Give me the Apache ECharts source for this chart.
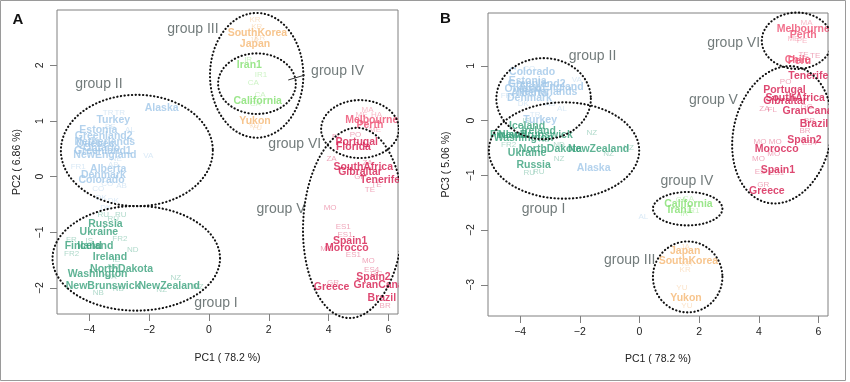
<!DOCTYPE html>
<html><head><meta charset="utf-8">
<script src="https://cdn.jsdelivr.net/npm/echarts@6/dist/echarts.min.js"></script>
<style>html,body{margin:0;padding:0;background:#fff}#c{width:850px;height:382px}</style>
</head><body><div id="c"></div>
<script>
// ---------- data ----------
const groupNames = ['group I','group II','group III','group IV','group V','group VI'];
const groupColors = ['#37a07a','#a0c7e8','#f5b672','#82e06e','#d61a4e','#ee4d70'];
const xTicks = [-4,-2,0,2,4,6];
const yTicksA = [-2,-1,0,1,2];
const yTicksB = [-3,-2,-1,0,1];
const axisTitleX = 'PC1 ( 78.2 %)';
const axisTitleYA = 'PC2 ( 6.86 %)';
const axisTitleYB = 'PC3 ( 5.06 %)';

// [label, PC1, PC2, group(1-6), bold population label=1 / sample code=0]
const pointsA = [
 ['RU',-2.95,-0.69,1,0],['RU',-3.53,-0.69,1,0],['RU',-3.2,-0.76,1,0],['FR2',-2.98,-1.12,1,0],
 ['ND',-2.55,-1.32,1,0],['FR2',-4.59,-1.39,1,0],['FR',-4.6,-1.14,1,0],['IS',-4.0,-1.15,1,0],
 ['IE',-3.1,-1.5,1,0],['ND',-3.2,-1.62,1,0],['WA',-3.3,-1.8,1,0],['NZ',-1.11,-1.81,1,0],
 ['NZ',-1.58,-2.03,1,0],['NZ',-0.36,-1.98,1,0],['NB',-3.7,-2.09,1,0],['NB',-3.03,-2.02,1,0],
 ['Russia',-3.46,-0.85,1,1],['Ukraine',-3.68,-1.0,1,1],['Finland',-4.2,-1.24,1,1],
 ['Iceland',-3.8,-1.24,1,1],['Ireland',-3.31,-1.45,1,1],['NorthDakota',-2.92,-1.66,1,1],
 ['Washington',-3.72,-1.75,1,1],['NewBrunswick',-3.54,-1.96,1,1],['NewZealand',-1.33,-1.96,1,1],

 ['TR',-3.37,1.14,2,0],['TR',-2.98,1.14,2,0],['AL',-2.64,0.84,2,0],['FR1',-4.37,0.18,2,0],
 ['VA',-2.03,0.38,2,0],['AB',-2.92,-0.16,2,0],['CO',-3.7,-0.21,2,0],['DK',-3.2,-0.44,2,0],
 ['DK',-3.6,-0.38,2,0],['DK',-3.45,-0.55,2,0],['EE',-3.3,0.9,2,0],['NL',-3.9,0.62,2,0],
 ['ON',-3.95,0.45,2,0],['NE',-3.1,0.33,2,0],['AB',-3.2,0.22,2,0],['CO',-3.4,-0.12,2,0],
 ['Alaska',-1.58,1.24,2,1],['Turkey',-3.2,1.02,2,1],['Estonia',-3.7,0.84,2,1],
 ['Greenland2',-3.52,0.72,2,1],['Netherlands',-3.48,0.63,2,1],['Quebec',-3.8,0.58,2,1],
 ['Ontario',-3.59,0.52,2,1],['Greenland1',-3.55,0.46,2,1],['NewEngland',-3.48,0.39,2,1],
 ['Alberta',-3.37,0.14,2,1],['Denmark',-3.53,0.02,2,1],['Colorado',-3.59,-0.06,2,1],

 ['KR',1.54,2.81,3,0],['KR',1.6,2.7,3,0],['JA',1.5,2.45,3,0],['KR',1.7,2.5,3,0],
 ['YU',1.59,0.87,3,0],['YU',1.5,0.92,3,0],
 ['SouthKorea',1.62,2.57,3,1],['Japan',1.54,2.38,3,1],['Yukon',1.54,1.0,3,1],

 ['IR1',1.74,1.83,4,0],['CA',1.48,1.68,4,0],['CA',1.71,1.47,4,0],['IR',1.31,2.1,4,0],['CA',1.55,1.3,4,0],
 ['Iran1',1.35,2.0,4,1],['California',1.63,1.36,4,1],

 ['ZA',4.1,0.33,5,0],['TE',5.38,-0.24,5,0],['TE',5.6,-0.15,5,0],['GI',5.0,0.0,5,0],
 ['FL',4.27,0.72,5,0],['PO',4.9,0.75,5,0],['ZA',5.3,0.25,5,0],['MO',4.05,-0.55,5,0],
 ['ES1',4.49,-0.9,5,0],['ES1',4.55,-1.05,5,0],['MO',3.94,-1.3,5,0],['MO',5.33,-1.51,5,0],
 ['ES1',4.83,-1.41,5,0],['ES4',5.44,-1.68,5,0],['GR',4.15,-1.91,5,0],['BR',5.89,-2.32,5,0],
 ['GC',5.6,-1.75,5,0],
 ['Portugal',4.94,0.62,5,1],['Florida',4.83,0.54,5,1],['SouthAfrica',5.16,0.18,5,1],
 ['Gibraltar',5.05,0.09,5,1],['Tenerife',5.72,-0.06,5,1],['Spain1',4.72,-1.15,5,1],
 ['Morocco',4.61,-1.29,5,1],['Spain2',5.5,-1.81,5,1],['GranCanaria',5.89,-1.95,5,1],
 ['Greece',4.1,-1.99,5,1],['Brazil',5.78,-2.18,5,1],

 ['MA',5.3,1.2,6,0],['ME',5.1,1.12,6,0],['HA',5.6,1.12,6,0],['PE',5.2,0.95,6,0],['ME',5.55,0.85,6,0],
 ['Melbourne',5.44,1.02,6,1],['Perth',5.38,0.93,6,1]
];

// [label, PC1, PC3, group, bold]
const pointsB = [
 ['NZ',-1.6,-0.23,1,0],['NZ',-1.04,-0.6,1,0],['NZ',-0.37,-0.5,1,0],['FR2',-4.39,-0.44,1,0],
 ['RU',-3.38,-0.94,1,0],['RU',-3.7,-0.95,1,0],['ND',-2.7,-0.45,1,0],['NB',-3.2,-0.35,1,0],
 ['IS',-3.8,0.0,1,0],['NZ',-2.7,-0.7,1,0],
 ['Iceland',-3.77,-0.11,1,1],['Finland',-4.39,-0.26,1,1],['NewBrunswick',-3.49,-0.26,1,1],
 ['Washington',-3.89,-0.32,1,1],['Ireland',-3.38,-0.19,1,1],['NorthDakota',-2.99,-0.53,1,1],
 ['Ukraine',-3.77,-0.6,1,1],['NewZealand',-1.37,-0.52,1,1],['Russia',-3.55,-0.81,1,1],

 ['AL',-2.6,0.21,2,0],['VA',-2.1,0.74,2,0],['AL',0.13,-1.76,2,0],['TR',-3.5,0.1,2,0],
 ['CO',-3.7,0.95,2,0],['DK',-3.9,0.3,2,0],['FR1',-4.4,0.45,2,0],['AB',-3.0,0.3,2,0],
 ['Colorado',-3.6,0.88,2,1],['Estonia',-3.75,0.72,2,1],['Greenland2',-3.45,0.66,2,1],
 ['NewEngland',-2.93,0.61,2,1],['Ontario',-3.9,0.58,2,1],['Netherlands',-3.1,0.52,2,1],
 ['Alberta',-3.7,0.5,2,1],['Denmark',-3.69,0.41,2,1],['Turkey',-3.33,0.0,2,1],['Alaska',-1.54,-0.87,2,1],

 ['KR',1.53,-2.72,3,0],['JA',1.53,-2.3,3,0],['YU',1.42,-3.06,3,0],['YU',1.59,-3.39,3,0],['KR',1.6,-2.62,3,0],
 ['Japan',1.53,-2.39,3,1],['SouthKorea',1.64,-2.57,3,1],['Yukon',1.56,-3.24,3,1],

 ['CA',1.64,-1.42,4,0],['CA',1.4,-1.45,4,0],['IR',1.5,-1.7,4,0],['IR1',1.8,-1.65,4,0],
 ['California',1.64,-1.52,4,1],['Iran1',1.36,-1.64,4,1],

 ['ZA',4.19,0.21,5,0],['FL',4.45,0.2,5,0],['MO',4.04,-0.39,5,0],['MO',4.55,-0.39,5,0],
 ['MO',3.99,-0.69,5,0],['ES',4.04,-0.93,5,0],['ES1',4.6,-0.95,5,0],['GR',4.15,-1.17,5,0],
 ['BR',5.55,-0.19,5,0],['TE',5.89,1.18,5,0],['TE',5.5,1.2,5,0],['PO',4.9,0.7,5,0],
 ['GC',5.6,0.25,5,0],['BR',5.7,0.0,5,0],['ES4',5.7,-0.4,5,0],['MO',4.5,-0.6,5,0],
 ['Tenerife',5.66,0.82,5,1],['Portugal',4.86,0.56,5,1],['SouthAfrica',5.22,0.41,5,1],
 ['Gibraltar',4.88,0.35,5,1],['GranCanaria',5.85,0.18,5,1],['Brazil',5.85,-0.06,5,1],
 ['Spain2',5.53,-0.36,5,1],['Morocco',4.6,-0.53,5,1],['Spain1',4.64,-0.9,5,1],['Greece',4.27,-1.28,5,1],

 ['ME',5.16,1.5,6,0],['MA',5.6,1.78,6,0],['PE',5.45,1.45,6,0],
 ['Melbourne',5.49,1.67,6,1],['Perth',5.49,1.56,6,1],['Chile',5.3,1.1,6,1],['Peru',5.36,1.08,6,1]
];

// ellipses: [group, centre PC1, centre PCy, radius PC1, radius PCy, tilt deg]
const ellipsesA = [
 [1,-2.43,-1.465,2.8,0.94,0],[2,-2.41,0.47,2.54,1.0,0],[3,1.595,1.82,1.56,1.12,0],
 [4,1.605,1.67,1.30,0.544,0],[5,4.82,-0.83,1.67,1.71,3],[6,5.05,0.855,1.30,0.52,0]
];
const ellipsesB = [
 [1,-2.53,-0.547,2.52,0.88,0],[2,-3.216,0.40,1.585,0.74,0],[3,1.615,-2.856,1.165,0.648,0],
 [4,1.615,-1.61,1.165,0.305,0],[5,4.78,-0.26,1.635,1.27,12.4],[6,5.28,1.458,1.18,0.515,0]
];
// group label positions [group, PC1, PCy]
const groupLabelsA = [[1,0.234,-2.262],[2,-3.68,1.66],[3,-0.535,2.646],[4,4.30,1.90],[5,2.41,-0.585],[6,2.87,0.58]];
const groupLabelsB = [[1,-3.216,-1.617],[2,-1.575,1.168],[3,-0.328,-2.542],[4,1.588,-1.113],[5,2.479,0.378],[6,3.156,1.412]];
const pointerA = [[2.65,1.736],[3.21,1.826]];

// ---------- chart ----------
const FONT = 'Liberation Sans, Arial, Helvetica, sans-serif';
function hexA(hex,a){const n=parseInt(hex.slice(1),16);return `rgba(${n>>16},${(n>>8)&255},${n&255},${a})`;}
function labelData(pts){
  const sorted = pts.filter(p=>!p[4]).concat(pts.filter(p=>p[4]));
  return sorted.map(p=>({value:[p[1],p[2]], name:p[0], label:{
    color: p[4]? groupColors[p[3]-1] : hexA(groupColors[p[3]-1],0.5),
    fontSize: p[4]? 10.5 : 8, fontWeight: p[4]? 'bold':'normal'}}));
}
function labelSeries(pts, i){
  return {type:'scatter', xAxisIndex:i, yAxisIndex:i, symbolSize:1, silent:true, z:3,
    itemStyle:{color:'rgba(0,0,0,0)'},
    label:{show:true, position:'inside', formatter:'{b}', fontFamily:FONT},
    emphasis:{disabled:true}, data:labelData(pts)};
}
function groupLabelSeries(list, i){
  return {type:'scatter', xAxisIndex:i, yAxisIndex:i, symbolSize:1, silent:true, z:4,
    itemStyle:{color:'rgba(0,0,0,0)'},
    label:{show:true, position:'inside', formatter:'{b}', fontFamily:FONT, fontSize:14, color:'#4f5a5a'},
    emphasis:{disabled:true}, data:list.map(g=>({value:[g[1],g[2]], name:groupNames[g[0]-1]}))};
}
function ellipseSeries(list, i){
  return {type:'custom', xAxisIndex:i, yAxisIndex:i, silent:true, z:5, clip:false,
    encode:{x:0,y:1}, data:list.map(e=>e.slice(1)),
    renderItem(params, api){
      const c = api.coord([api.value(0), api.value(1)]);
      const s = api.size([api.value(2), api.value(3)]);
      const phi = api.value(4)*Math.PI/180, pts=[];
      for(let k=0;k<=160;k++){const t=k/160*2*Math.PI, x=s[0]*Math.cos(t), y=s[1]*Math.sin(t);
        pts.push([c[0]+x*Math.cos(phi)-y*Math.sin(phi), c[1]+x*Math.sin(phi)+y*Math.cos(phi)]);}
      return {type:'polyline', shape:{points:pts},
        style:{fill:null, stroke:'#111', lineWidth:2.1, lineDash:[0.3,3.4], lineCap:'round'}};
    }};
}
const minus = v => String(v).replace('-','\u2212');
function xAxis(i){
  return {gridIndex:i, type:'value', min:-5.08, max:6.32, splitLine:{show:false}, axisLine:{show:false, onZero:false},
    axisTick:{show:true, length:7, customValues:xTicks, lineStyle:{color:'#808080'}},
    axisLabel:{customValues:xTicks, formatter:minus, margin:11, fontSize:10.5, color:'#222', fontFamily:FONT}};
}
function yAxis(i,min,max,ticks){
  return {gridIndex:i, type:'value', min, max, splitLine:{show:false}, axisLine:{show:false, onZero:false},
    axisTick:{show:true, length:7, customValues:ticks, lineStyle:{color:'#808080'}},
    axisLabel:{customValues:ticks, formatter:minus, rotate:90, margin:11, fontSize:10.5, color:'#222', fontFamily:FONT}};
}
const chart = echarts.init(document.getElementById('c'), null, {renderer:'canvas'});
chart.setOption({
  animation:false, backgroundColor:'#fff',
  grid:[
    {left:57, top:10, width:341, height:304, show:true, borderColor:'#808080', borderWidth:1, backgroundColor:'transparent'},
    {left:488, top:13, width:340, height:303, show:true, borderColor:'#808080', borderWidth:1, backgroundColor:'transparent'}
  ],
  xAxis:[xAxis(0), xAxis(1)],
  yAxis:[yAxis(0,-2.465,2.993,yTicksA), yAxis(1,-3.57,1.965,yTicksB)],
  series:[
    labelSeries(pointsA,0), labelSeries(pointsB,1),
    ellipseSeries(ellipsesA,0), ellipseSeries(ellipsesB,1),
    groupLabelSeries(groupLabelsA,0), groupLabelSeries(groupLabelsB,1),
    {type:'line', xAxisIndex:0, yAxisIndex:0, data:pointerA, symbol:'none', silent:true, z:5,
     lineStyle:{color:'#333', width:1}}
  ],
  graphic:[
    {type:'rect', z:100, silent:true, shape:{x:399, y:2, width:38, height:313}, style:{fill:'#fff'}},
    {type:'rect', z:100, silent:true, shape:{x:829, y:2, width:17, height:314}, style:{fill:'#fff'}},
    {type:'rect', z:101, silent:true, shape:{x:0.5, y:0.5, width:845, height:380}, style:{fill:null, stroke:'#9a9a9a', lineWidth:1}},
    {type:'text', z:101, x:18, y:20, style:{text:'A', font:'bold 15px '+FONT, fill:'#111', align:'center', verticalAlign:'middle'}},
    {type:'text', z:101, x:445.5, y:18.5, style:{text:'B', font:'bold 15px '+FONT, fill:'#111', align:'center', verticalAlign:'middle'}},
    {type:'text', z:101, x:227.5, y:358, style:{text:axisTitleX, font:'10.5px '+FONT, fill:'#222', align:'center', verticalAlign:'middle'}},
    {type:'text', z:101, x:658, y:359, style:{text:axisTitleX, font:'10.5px '+FONT, fill:'#222', align:'center', verticalAlign:'middle'}},
    {type:'text', z:101, x:17, y:162, rotation:Math.PI/2, style:{text:axisTitleYA, font:'10.5px '+FONT, fill:'#222', align:'center', verticalAlign:'middle'}},
    {type:'text', z:101, x:446, y:164.5, rotation:Math.PI/2, style:{text:axisTitleYB, font:'10.5px '+FONT, fill:'#222', align:'center', verticalAlign:'middle'}}
  ]
});
</script></body></html>
